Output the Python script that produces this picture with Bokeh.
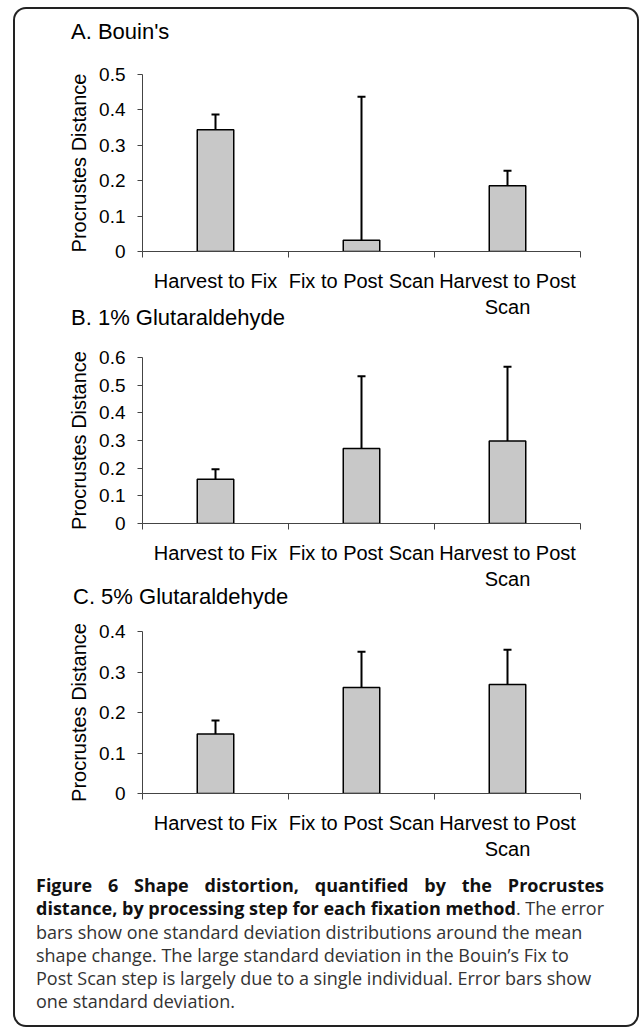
from bokeh.plotting import figure
from bokeh.models import FixedTicker, ColumnDataSource, Whisker, TeeHead, Div, Range1d
from bokeh.layouts import column
from bokeh.embed import file_html
from bokeh.resources import INLINE

# ---------------- data ----------------
steps = ["Harvest to Fix", "Fix to Post Scan", "Harvest to Post\nScan"]
step_pos = [0.5, 1.5, 2.5]
step_bounds = [0, 1, 2, 3]

panel_titles = ["A. Bouin's", "B. 1% Glutaraldehyde", "C. 5% Glutaraldehyde"]

bouin_mean = [0.344, 0.032, 0.186]
bouin_sd = [0.043, 0.405, 0.042]
bouin_ticks = [0, 0.1, 0.2, 0.3, 0.4, 0.5]

glut1_mean = [0.160, 0.271, 0.298]
glut1_sd = [0.036, 0.261, 0.269]
glut1_ticks = [0, 0.1, 0.2, 0.3, 0.4, 0.5, 0.6]

glut5_mean = [0.147, 0.262, 0.269]
glut5_sd = [0.033, 0.088, 0.086]
glut5_ticks = [0, 0.1, 0.2, 0.3, 0.4]

FONT = "Liberation Sans"
AXIS_COL = "#444444"
W = 622
TH = 40  # height of a heading strip


def heading(text, pad_left, pad_top, margin_top):
    html = (f'<div style="font-family:\'Liberation Sans\';font-size:22px;line-height:26px;'
            f'color:black;white-space:nowrap;padding:{pad_top}px 0 0 {pad_left}px;">'
            f'{text}</div>')
    return Div(text=html, width=W, height=TH, margin=(margin_top, 0, 0, 0))


def make_panel(means, sds, ticks, height, left, right, top, bottom):
    p = figure(width=W, height=height,
               x_range=Range1d(0, 3), y_range=Range1d(0, ticks[-1]),
               output_backend="svg", toolbar_location=None,
               min_border_left=left, min_border_right=right,
               min_border_top=top, min_border_bottom=bottom,
               margin=(-TH, 0, 0, 0))
    p.background_fill_alpha = 0
    p.border_fill_alpha = 0
    p.outline_line_color = None
    p.grid.visible = False

    src = ColumnDataSource(dict(x=step_pos, top=means,
                                upper=[m + s for m, s in zip(means, sds)]))
    p.vbar(x="x", top="top", bottom=0, width=0.25, source=src,
           fill_color="#c8c8c8", line_color="black", line_width=1.5)
    w = Whisker(base="x", lower="top", upper="upper", source=src,
                dimension="height", line_color="black", line_width=2,
                upper_head=TeeHead(size=8, line_color="black", line_width=2),
                lower_head=None)
    p.add_layout(w)

    xa = p.xaxis[0]
    xa.ticker = FixedTicker(ticks=step_pos, minor_ticks=step_bounds)
    xa.major_label_overrides = {pos: lab for pos, lab in zip(step_pos, steps)}
    xa.major_tick_line_color = None
    xa.major_tick_in = 0
    xa.major_tick_out = 0
    xa.minor_tick_in = 0
    xa.minor_tick_out = 6
    xa.minor_tick_line_color = AXIS_COL
    xa.axis_line_color = AXIS_COL
    xa.major_label_standoff = 12
    xa.major_label_text_font = FONT
    xa.major_label_text_font_size = "20px"
    xa.major_label_text_color = "black"

    ya = p.yaxis[0]
    ya.ticker = FixedTicker(ticks=ticks)
    ya.major_label_overrides = {t: ("0" if t == 0 else f"{t:.1f}") for t in ticks}
    ya.minor_tick_line_color = None
    ya.major_tick_in = 0
    ya.major_tick_out = 5
    ya.major_tick_line_color = AXIS_COL
    ya.axis_line_color = AXIS_COL
    ya.major_label_standoff = 12
    ya.major_label_text_font = FONT
    ya.major_label_text_font_size = "19px"
    ya.major_label_text_color = "black"
    ya.axis_label = "Procrustes Distance"
    ya.axis_label_text_font = FONT
    ya.axis_label_text_font_size = "20px"
    ya.axis_label_text_font_style = "normal"
    ya.axis_label_text_color = "black"
    ya.axis_label_standoff = 6
    return p


ta = heading(panel_titles[0], 56, 10, 0)
pa = make_panel(bouin_mean, bouin_sd, bouin_ticks, 311, 123, 57, 65, 69)
tb = heading(panel_titles[1], 56, 0, -15)
pb = make_panel(glut1_mean, glut1_sd, glut1_ticks, 287, 120, 55, 52, 67)
tc = heading(panel_titles[2], 58, 2, -10)
pc = make_panel(glut5_mean, glut5_sd, glut5_ticks, 280, 127, 55, 49, 68)

caption_html = """
<div style="font-family:'Open Sans';font-size:18px;line-height:23.3px;color:#333;
padding:7px 14px 0 16px;white-space:nowrap;">
<div style="text-align:justify;text-align-last:justify;color:#111;"><b>Figure 6 Shape distortion, quantified by the Procrustes</b></div>
<div style="text-align:justify;text-align-last:justify;"><b style="color:#111;">distance, by processing step for each fixation method</b>. The error</div>
<div>bars show one standard deviation distributions around the mean</div>
<div>shape change. The large standard deviation in the Bouin\u2019s Fix to</div>
<div>Post Scan step is largely due to a single individual. Error bars show</div>
<div>one standard deviation.</div>
</div>
"""
caption = Div(text=caption_html, width=W, height=163)

layout = column(ta, pa, tb, pb, tc, pc, caption, sizing_mode="fixed", width=W, height=1016,
                styles={"box-shadow": "0 0 0 2px #222", "border-radius": "11px",
                        "margin-left": "15px", "margin-top": "9px",
                        "background": "white"})

open("out.html", "w").write(file_html(layout, INLINE))
